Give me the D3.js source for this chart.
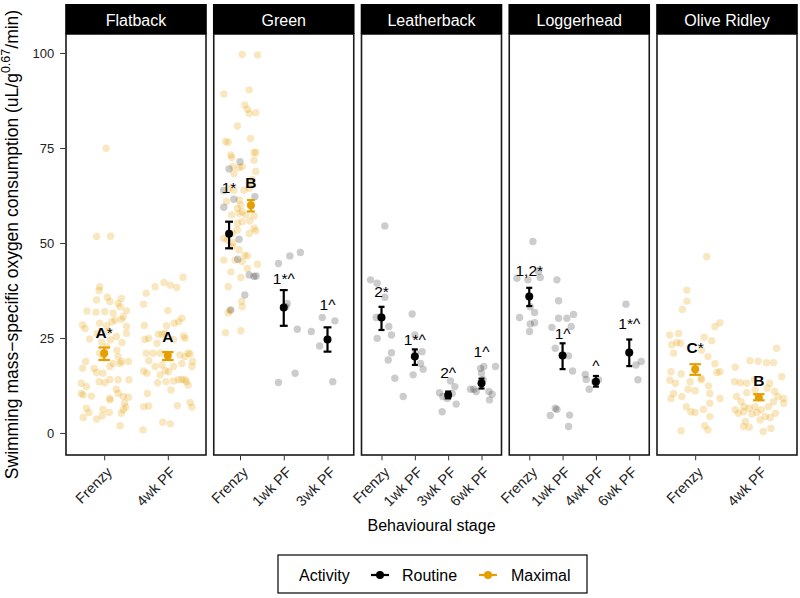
<!DOCTYPE html>
<html><head><meta charset="utf-8">
<script src="https://cdn.jsdelivr.net/npm/d3@7"></script>
<style>body{margin:0;background:#fff} svg{display:block;font-family:"Liberation Sans",Arial,Helvetica,sans-serif}</style>
</head><body><svg id="chart" width="800" height="598"></svg>
<script>
// ---------------- DATA ----------------
const speciesNames = ["Flatback","Green","Leatherback","Loggerhead","Olive Ridley"];
const stageNames = [
  ["Frenzy","4wk PF"],
  ["Frenzy","1wk PF","3wk PF"],
  ["Frenzy","1wk PF","3wk PF","6wk PF"],
  ["Frenzy","1wk PF","4wk PF","6wk PF"],
  ["Frenzy","4wk PF"]
];
const activities = ["Routine","Maximal"];
const activityColors = ["#000000","#E69F00"];
const yTicks = [0,25,50,75,100];

// summary: species, stage, activity, mean, lower, upper, label, label position
const meanRows = [
  ["Flatback","Frenzy","Maximal",21.0,19.2,22.5,"A*",26.4],
  ["Flatback","4wk PF","Maximal",20.4,19.2,21.3,"A",25.3],
  ["Green","Frenzy","Routine",52.4,48.6,55.6,"1*",64.5],
  ["Green","Frenzy","Maximal",59.9,58.3,61.3,"B",66.0],
  ["Green","1wk PF","Routine",33.0,28.2,37.6,"1*^",40.8],
  ["Green","3wk PF","Routine",24.6,21.4,27.8,"1^",33.7],
  ["Leatherback","Frenzy","Routine",30.4,27.1,33.2,"2*",37.2],
  ["Leatherback","1wk PF","Routine",20.1,17.9,22.0,"1*^",24.7],
  ["Leatherback","3wk PF","Routine",10.0,9.1,10.9,"2^",15.9],
  ["Leatherback","6wk PF","Routine",13.1,11.7,14.3,"1^",21.4],
  ["Loggerhead","Frenzy","Routine",35.9,33.4,38.2,"1,2*",42.9],
  ["Loggerhead","1wk PF","Routine",20.4,16.8,23.6,"1^",26.3],
  ["Loggerhead","4wk PF","Routine",13.5,12.2,15.0,"^",17.8],
  ["Loggerhead","6wk PF","Routine",21.2,17.6,24.6,"1*^",28.9],
  ["Olive Ridley","Frenzy","Maximal",16.8,15.3,18.1,"C*",22.4],
  ["Olive Ridley","4wk PF","Maximal",9.4,8.6,10.2,"B",13.9]
];

// raw observations: [jitter offset (category units), value]
const rawFlatbackFrenzyMax = [[0.03,74.9],[-0.12,51.7],[0.10,51.8],[-0.07,38.5],[-0.08,37.5],[-0.12,35.0],[0.05,35.7],[0.09,34.6],[0.27,35.4],[0.22,34.1],[0.25,33.2],[0.35,32.2],[-0.13,31.8],[-0.27,32.1],[0.01,31.9],[0.14,31.5],[0.30,30.6],[0.17,29.7],[0.12,29.3],[0.04,28.2],[0.27,29.9],[-0.34,28.4],[-0.30,27.5],[-0.07,28.9],[0.35,28.0],[-0.11,26.2],[0.06,26.7],[0.35,26.2],[0.19,25.4],[0.10,24.5],[0.28,23.8],[-0.23,24.7],[-0.04,23.9],[0.20,21.8],[0.22,20.1],[-0.02,20.1],[0.04,22.7],[-0.07,21.0],[-0.29,18.8],[-0.34,17.0],[-0.16,17.0],[-0.12,15.9],[0.38,18.8],[0.27,18.8],[0.25,18.3],[0.14,18.3],[0.09,17.5],[-0.02,15.7],[-0.08,13.5],[0.01,13.2],[0.22,14.0],[0.09,14.1],[0.39,14.0],[-0.36,13.1],[-0.36,10.4],[-0.33,10.0],[-0.20,9.7],[-0.28,12.2],[0.19,11.5],[0.09,9.1],[0.09,8.7],[0.22,10.4],[0.30,9.6],[0.38,9.4],[0.32,7.8],[0.34,6.8],[0.30,6.1],[0.27,5.2],[-0.02,6.2],[0.08,5.4],[-0.03,4.5],[-0.28,6.5],[-0.24,5.4],[-0.33,4.1],[0.25,1.9],[-0.12,3.6]];
const rawFlatback4wkMax = [[0.24,41.0],[-0.06,39.6],[0.04,38.9],[0.14,38.3],[-0.20,38.5],[-0.34,36.8],[-0.38,33.9],[0.00,32.2],[0.22,30.2],[0.17,29.3],[0.10,28.9],[-0.02,28.2],[-0.37,28.3],[-0.15,26.0],[-0.09,26.0],[-0.04,26.2],[0.25,25.5],[0.27,24.9],[-0.30,24.9],[-0.36,24.6],[-0.17,23.6],[0.09,24.6],[-0.34,21.0],[-0.23,21.0],[-0.12,21.0],[-0.30,19.0],[0.19,20.5],[0.32,21.0],[0.35,20.8],[0.27,20.1],[0.39,18.8],[0.22,18.3],[0.38,17.5],[-0.09,17.9],[-0.20,17.5],[0.09,17.5],[-0.04,16.4],[0.01,16.1],[-0.12,15.3],[-0.38,16.3],[-0.33,15.7],[-0.16,13.2],[-0.03,13.5],[0.09,13.7],[0.17,14.0],[0.22,14.1],[0.27,14.0],[0.29,13.5],[0.32,12.6],[0.05,11.3],[-0.32,10.4],[0.35,8.0],[0.38,6.8],[0.15,7.2],[-0.38,6.9],[-0.30,7.1],[-0.39,0.8],[-0.08,2.8],[0.04,2.4]];
const rawGreenFrenzyMax = [[0.05,99.6],[0.40,99.5],[-0.37,89.2],[0.21,90.3],[0.11,86.3],[0.17,85.2],[0.21,84.1],[0.36,84.3],[-0.06,80.8],[0.24,77.5],[-0.33,76.7],[-0.27,76.5],[-0.21,73.2],[-0.19,72.5],[0.32,73.8],[0.36,73.8],[0.32,71.8],[-0.02,69.8],[0.05,70.1],[-0.16,70.1],[-0.14,68.3],[0.36,68.8],[0.28,66.7],[0.28,65.7],[0.21,64.4],[0.09,63.9],[-0.14,63.9],[-0.25,64.4],[-0.31,60.9],[-0.02,61.3],[0.02,60.0],[-0.06,59.1],[0.05,58.2],[-0.02,57.8],[-0.19,57.4],[0.13,57.4],[0.32,57.1],[0.22,55.8],[0.05,55.6],[-0.06,55.2],[0.32,53.9],[0.36,53.2],[-0.18,52.5],[-0.06,53.4],[0.21,52.5],[-0.37,51.2],[-0.29,50.8],[-0.16,50.1],[-0.18,49.0],[-0.02,48.2],[0.11,46.8],[0.17,46.6],[-0.37,45.5],[-0.11,45.5],[0.05,45.1],[0.40,44.4],[0.17,43.3],[-0.21,42.4],[0.02,40.9],[-0.27,38.5],[0.04,34.6],[0.05,33.2],[-0.23,32.2],[-0.27,31.6],[-0.33,26.4],[0.02,26.9]];
const rawGreenFrenzyRoutine = [[-0.25,69.5],[0.00,71.4],[-0.37,63.8],[0.34,62.2],[-0.37,59.4],[-0.14,61.5],[-0.02,51.0],[-0.05,45.7],[0.21,41.6],[0.32,41.2],[0.37,41.3],[0.11,36.3],[-0.21,32.4]];
const rawGreen1wkRoutine = [[-0.12,44.6],[0.14,46.6],[0.38,47.5],[0.08,34.1],[0.05,33.2],[0.31,27.3],[-0.12,13.3],[0.26,15.7]];
const rawGreen3wkRoutine = [[-0.12,30.4],[0.17,29.5],[-0.37,26.7],[-0.18,22.9],[0.12,13.5]];
const rawLeatherbackFrenzy = [[0.10,54.5],[-0.33,40.3],[-0.13,39.4],[0.10,35.7],[-0.16,30.4],[-0.03,30.6],[0.22,28.0],[0.30,25.8],[-0.13,24.9],[0.30,21.1],[0.20,19.2],[0.40,14.4]];
const rawLeatherback1wk = [[-0.08,31.3],[0.00,25.8],[0.22,21.4],[0.17,18.3],[0.25,16.8],[-0.05,15.3],[-0.35,9.6],[0.02,21.0]];
const rawLeatherback3wk = [[0.07,13.7],[0.20,12.2],[-0.26,10.6],[-0.16,9.6],[-0.03,9.1],[0.24,7.6],[-0.18,5.6],[0.12,10.4]];
const rawLeatherback6wk = [[-0.03,17.0],[0.07,17.5],[0.00,15.7],[0.42,17.5],[-0.33,11.5],[-0.23,11.5],[-0.16,10.9],[0.22,10.9],[0.32,10.2],[0.24,8.7],[0.05,14.0]];
const rawLoggerheadFrenzy = [[0.11,50.4],[-0.37,40.7],[-0.04,40.3],[0.28,42.5],[0.33,40.9],[-0.29,30.4],[0.16,31.7],[0.16,29.0],[0.03,28.7],[0.01,26.7],[0.03,33.2]];
const rawLoggerhead1wk = [[-0.17,40.3],[-0.12,34.8],[-0.12,30.2],[0.13,30.2],[0.33,31.2],[-0.32,27.8],[0.26,28.0],[-0.22,22.3],[0.18,20.3],[0.30,16.3],[-0.22,6.5],[-0.17,6.2],[-0.37,4.6],[0.21,4.7],[0.18,1.7]];
const rawLoggerhead4wk = [[-0.32,15.4],[-0.29,14.1],[-0.20,11.5],[-0.04,13.5],[0.08,14.0]];
const rawLoggerhead6wk = [[-0.10,33.9],[0.20,17.9],[0.36,18.8],[0.26,14.0],[0.00,21.0]];
const rawOliveFrenzyMax = [[0.18,46.4],[-0.13,37.6],[-0.13,34.7],[-0.20,32.5],[0.39,29.0],[0.31,28.0],[-0.40,25.8],[-0.26,26.2],[-0.23,23.6],[-0.37,23.2],[-0.34,21.0],[-0.29,23.8],[0.14,25.2],[0.26,24.3],[0.10,21.8],[0.20,20.1],[0.31,18.2],[0.39,16.1],[0.34,15.9],[-0.38,16.1],[-0.40,13.9],[-0.22,15.5],[-0.31,13.1],[-0.08,13.5],[0.10,14.0],[0.21,12.4],[0.23,10.4],[0.00,11.1],[-0.11,11.5],[-0.21,9.6],[-0.38,9.1],[-0.34,10.4],[0.39,9.1],[0.23,7.8],[0.13,6.2],[-0.07,5.6],[0.00,5.4],[0.23,4.3],[0.15,1.9],[0.20,0.8],[-0.22,0.6],[-0.14,6.9],[0.09,14.4]];
const rawOlive4wkMax = [[0.28,22.3],[-0.37,17.3],[-0.14,19.0],[-0.01,18.9],[0.12,18.5],[0.23,18.5],[0.36,14.8],[-0.38,13.5],[-0.29,13.2],[-0.19,13.1],[-0.07,14.0],[0.17,13.1],[0.13,11.8],[0.25,10.9],[0.30,9.6],[0.39,9.1],[0.39,7.8],[0.23,8.2],[-0.35,9.6],[-0.28,8.2],[-0.23,6.9],[-0.15,6.5],[-0.06,6.9],[-0.37,6.1],[-0.32,5.2],[-0.24,5.6],[-0.11,5.0],[-0.03,5.4],[0.04,6.1],[0.15,6.9],[0.18,4.1],[-0.21,3.0],[-0.24,1.7],[-0.15,1.5],[0.07,0.4],[0.19,1.2],[0.02,3.4],[0.10,4.3],[-0.19,10.6],[-0.06,11.3],[0.26,5.2]];

const rawGroups = [
  ["Flatback","Frenzy","Maximal",rawFlatbackFrenzyMax],
  ["Flatback","4wk PF","Maximal",rawFlatback4wkMax],
  ["Green","Frenzy","Maximal",rawGreenFrenzyMax],
  ["Green","Frenzy","Routine",rawGreenFrenzyRoutine],
  ["Green","1wk PF","Routine",rawGreen1wkRoutine],
  ["Green","3wk PF","Routine",rawGreen3wkRoutine],
  ["Leatherback","Frenzy","Routine",rawLeatherbackFrenzy],
  ["Leatherback","1wk PF","Routine",rawLeatherback1wk],
  ["Leatherback","3wk PF","Routine",rawLeatherback3wk],
  ["Leatherback","6wk PF","Routine",rawLeatherback6wk],
  ["Loggerhead","Frenzy","Routine",rawLoggerheadFrenzy],
  ["Loggerhead","1wk PF","Routine",rawLoggerhead1wk],
  ["Loggerhead","4wk PF","Routine",rawLoggerhead4wk],
  ["Loggerhead","6wk PF","Routine",rawLoggerhead6wk],
  ["Olive Ridley","Frenzy","Maximal",rawOliveFrenzyMax],
  ["Olive Ridley","4wk PF","Maximal",rawOlive4wkMax]
];

// ---------------- LAYOUT ----------------
const svg = d3.select("#chart");
const panelLeft = 66, panelRight = 797, panelGap = 7.75;
const stripTop = 4, stripBottom = 34, panelBottom = 455;
const nP = speciesNames.length;
const panelW = (panelRight - panelLeft - panelGap * (nP - 1)) / nP;
const y = d3.scaleLinear().domain([-5.8, 105]).range([panelBottom, stripBottom]);
const color = d3.scaleOrdinal().domain(activities).range(activityColors);
const dodge = 0.25, capW = 0.18;

speciesNames.forEach((sp, i) => {
  const x0 = panelLeft + i * (panelW + panelGap);
  const x = d3.scalePoint().domain(stageNames[i]).range([x0, x0 + panelW]).padding(0.6);
  const step = x.step();
  const g = svg.append("g");

  g.append("rect").attr("x", x0).attr("y", stripBottom).attr("width", panelW)
    .attr("height", panelBottom - stripBottom).attr("fill", "#fff");

  // raw jittered points
  rawGroups.filter(r => r[0] === sp).forEach(([s, stage, act, pts]) => {
    g.append("g").selectAll("circle").data(pts).join("circle")
      .attr("cx", d => x(stage) + d[0] * step)
      .attr("cy", d => y(d[1]))
      .attr("r", 3.7)
      .attr("fill", color(act))
      .attr("fill-opacity", act === "Routine" ? 0.2 : 0.25);
  });

  // means with error bars and labels
  const rows = meanRows.filter(r => r[0] === sp);
  rows.forEach(([s, stage, act, m, lo, hi, lab, labY]) => {
    const n = rows.filter(q => q[1] === stage).length;
    const off = n > 1 ? (act === "Routine" ? -dodge : dodge) : 0;
    const cx = x(stage) + off * step;
    const c = color(act);
    const hw = capW * step / 2;
    const eg = g.append("g").attr("stroke", c).attr("stroke-width", 2.2).attr("fill", "none");
    eg.append("line").attr("x1", cx).attr("x2", cx).attr("y1", y(lo)).attr("y2", y(hi));
    eg.append("line").attr("x1", cx - hw).attr("x2", cx + hw).attr("y1", y(lo)).attr("y2", y(lo));
    eg.append("line").attr("x1", cx - hw).attr("x2", cx + hw).attr("y1", y(hi)).attr("y2", y(hi));
    g.append("circle").attr("cx", cx).attr("cy", y(m)).attr("r", 4).attr("fill", c);

    const t = g.append("text").attr("x", cx).attr("y", y(labY)).attr("dy", "0.36em")
      .attr("text-anchor", "middle").style("font-size", "15.5px").attr("fill", "#000");
    const mm = lab.match(/^([A-Z])(.*)$/);
    if (mm) {
      t.append("tspan").attr("font-weight", "bold").text(mm[1]);
      if (mm[2]) t.append("tspan").attr("font-weight", "normal").text(mm[2]);
    } else {
      t.text(lab);
    }
  });

  // panel border
  g.append("rect").attr("x", x0).attr("y", stripBottom).attr("width", panelW)
    .attr("height", panelBottom - stripBottom).attr("fill", "none")
    .attr("stroke", "#1a1a1a").attr("stroke-width", 1.6);

  // strip
  g.append("rect").attr("x", x0 - 0.8).attr("y", stripTop).attr("width", panelW + 1.6)
    .attr("height", stripBottom - stripTop).attr("fill", "#000");
  g.append("text").attr("x", x0 + panelW / 2).attr("y", 25.5).attr("text-anchor", "middle")
    .style("font-size", "16px").attr("fill", "#fff").text(sp);

  // x axis
  const ax = g.append("g").attr("transform", `translate(0,${panelBottom + 0.8})`)
    .call(d3.axisBottom(x).tickSize(4.5).tickSizeOuter(0));
  ax.attr("font-size", null).attr("font-family", null);
  ax.select(".domain").remove();
  ax.selectAll(".tick line").attr("stroke", "#333").attr("stroke-width", 1);
  ax.selectAll(".tick text")
    .attr("y", 0).attr("dy", "0.71em")
    .attr("transform", "translate(1,10) rotate(-45)")
    .attr("text-anchor", "end")
    .style("font-size", "14.5px").attr("fill", "#222");

  if (i === 0) {
    const ay = g.append("g").attr("transform", `translate(${x0 - 0.8},0)`)
      .call(d3.axisLeft(y).tickValues(yTicks).tickSize(5).tickPadding(6));
    ay.attr("font-size", null).attr("font-family", null);
    ay.select(".domain").remove();
    ay.selectAll(".tick line").attr("stroke", "#333").attr("stroke-width", 1);
    ay.selectAll(".tick text").style("font-size", "13px").attr("fill", "#222");
  }
});

// axis titles
const yt = svg.append("text")
  .attr("transform", `translate(17.5,${(stripBottom + panelBottom) / 2}) rotate(-90)`)
  .attr("text-anchor", "middle").style("font-size", "17.5px").attr("fill", "#000");
yt.append("tspan").text("Swimming mass\u2212specific oxygen consumption (uL/g");
yt.append("tspan").style("font-size", "12.5px").attr("dy", -7.5).text("0.67");
yt.append("tspan").attr("dy", 7.5).text("/min)");

svg.append("text").attr("x", (panelLeft + panelRight) / 2).attr("y", 531)
  .attr("text-anchor", "middle").style("font-size", "16px").attr("fill", "#000").text("Behavioural stage");

// legend
const lg = svg.append("g");
lg.append("rect").attr("x", 278).attr("y", 555).attr("width", 309).attr("height", 38)
  .attr("fill", "#fff").attr("stroke", "#000").attr("stroke-width", 1.2);
lg.append("text").attr("x", 299).attr("y", 580.5).style("font-size", "16px").text("Activity");
const keyX = [380, 488];
const labX = [402, 511];
activities.forEach((a, k) => {
  lg.append("line").attr("x1", keyX[k] - 9).attr("x2", keyX[k] + 9).attr("y1", 575).attr("y2", 575)
    .attr("stroke", color(a)).attr("stroke-width", 2.2);
  lg.append("circle").attr("cx", keyX[k]).attr("cy", 575).attr("r", 4).attr("fill", color(a));
  lg.append("text").attr("x", labX[k]).attr("y", 580.5).style("font-size", "16px").text(a);
});
</script>
</body></html>
